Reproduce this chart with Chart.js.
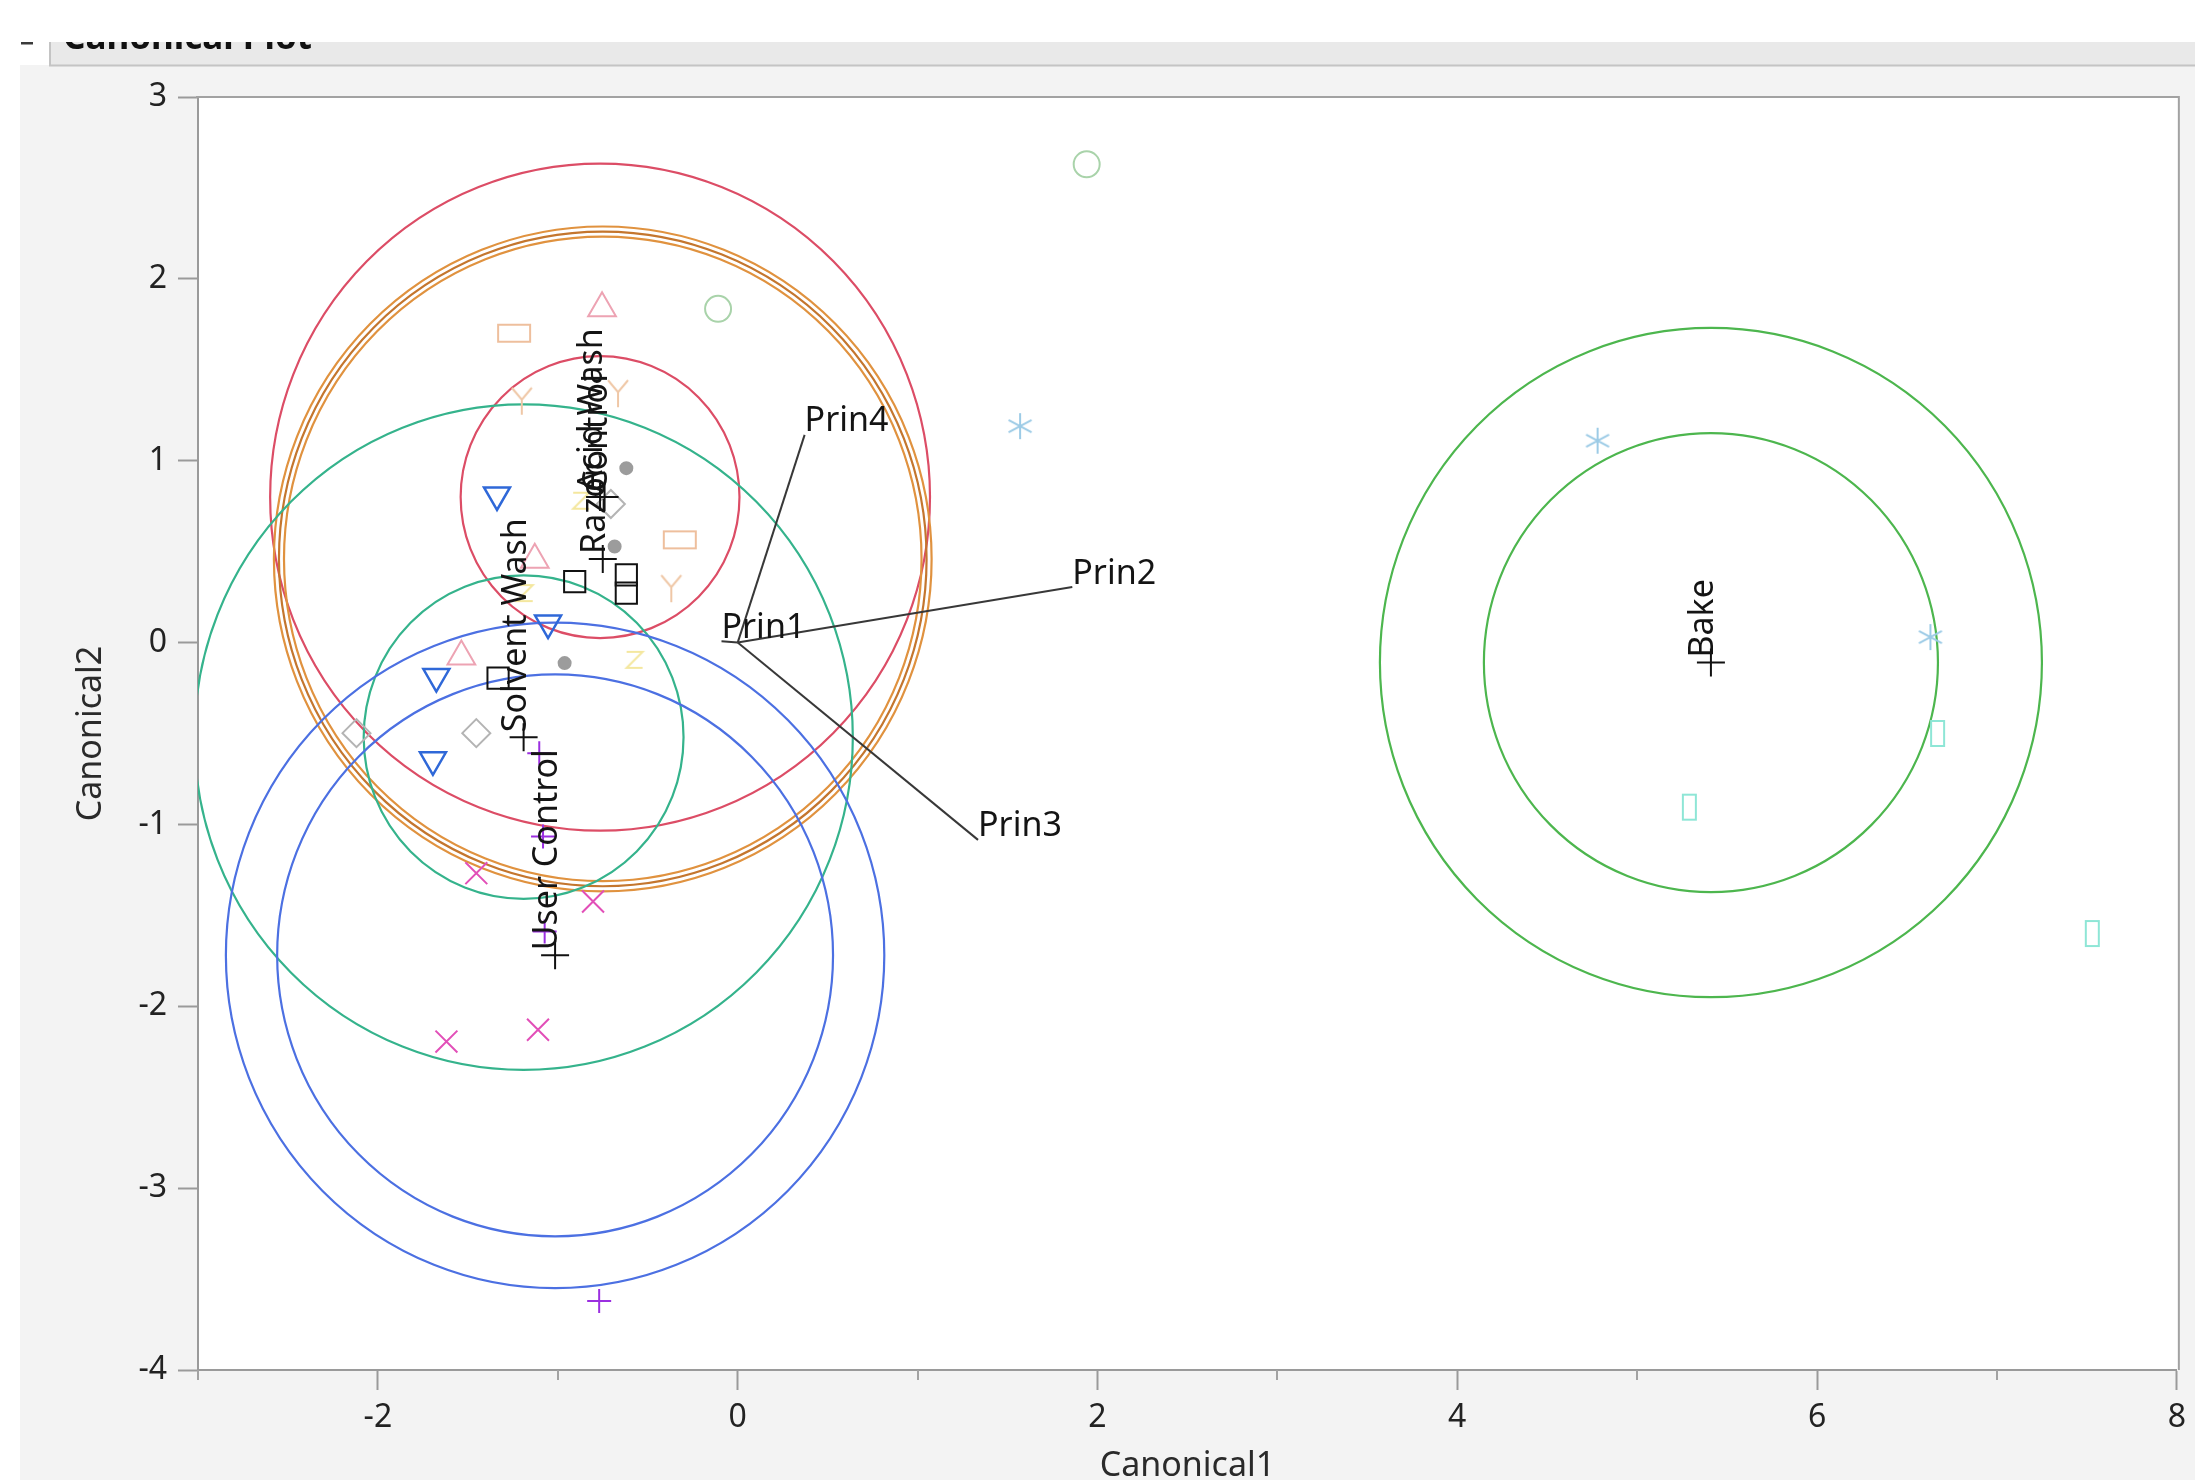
<!DOCTYPE html>
<html>
<head>
<meta charset="utf-8">
<title>Canonical Plot</title>
<script src="https://cdn.jsdelivr.net/npm/chart.js@4.4.1/dist/chart.umd.min.js"></script>
<style>
  html, body { margin: 0; padding: 0; background: #ffffff; }
  canvas { display: block; }
</style>
</head>
<body>
<canvas id="canon" width="2195" height="1480"></canvas>
<script>
// ---- treatment groups: mean canonical scores ----
const groupNames = ['Acid Wash', 'Control', 'Razor', 'Solvent Wash', 'User Control', 'Bake'];
const groupMeanX = [-0.765, -0.74, -0.75, -1.19, -1.015, 5.41];
const groupMeanY = [0.80, 0.80, 0.46, -0.52, -1.72, -0.11];

// ---- rings around the group means (radius in canonical units) ----
const ringGroup  = ['Acid Wash', 'Acid Wash', 'Razor', 'Razor', 'Razor',
                    'Solvent Wash', 'Solvent Wash', 'User Control', 'User Control', 'Bake', 'Bake'];
const ringRadius = [1.834, 0.775, 1.828, 1.80, 1.772, 1.83, 0.889, 1.83, 1.545, 1.84, 1.262];

// ---- biplot rays for the principal components ----
const rayNames = ['Prin1', 'Prin2', 'Prin3', 'Prin4'];
const rayX = [-0.09, 1.86, 1.336, 0.372];
const rayY = [0.007, 0.305, -1.085, 1.142];

// ---- individual observations, one pair of arrays per marker ----
const peachBoxX = [-1.243, -0.322];
const peachBoxY = [1.701, 0.565];
const peachForkX = [-1.20, -0.665, -0.369];
const peachForkY = [1.33, 1.371, 0.299];
const pinkTriX = [-0.754, -1.128, -1.536];
const pinkTriY = [1.838, 0.455, -0.077];
const greenRingX = [-0.109, 1.94];
const greenRingY = [1.835, 2.63];
const blueTriX = [-1.338, -1.054, -1.675, -1.694];
const blueTriY = [0.812, 0.107, -0.187, -0.645];
const grayDiamondX = [-0.705, -1.453, -2.119];
const grayDiamondY = [0.762, -0.498, -0.498];
const grayDotX = [-0.619, -0.684, -0.962];
const grayDotY = [0.959, 0.528, -0.113];
const blackBoxX = [-0.906, -0.619, -0.619, -1.332];
const blackBoxY = [0.335, 0.372, 0.272, -0.196];
const magentaCrossX = [-1.453, -0.804, -1.619, -1.11];
const magentaCrossY = [-1.268, -1.424, -2.194, -2.129];
const purplePlusX = [-1.103, -1.082, -1.073, -0.77];
const purplePlusY = [-0.608, -1.066, -1.589, -3.62];
const skyStarX = [1.57, 4.78, 6.63];
const skyStarY = [1.19, 1.11, 0.03];
const aquaBarX = [5.29, 6.67, 7.53];
const aquaBarY = [-0.905, -0.50, -1.60];
const yellowZX = [-0.573, -0.87, -1.184];
const yellowZY = [-0.095, 0.78, 0.272];

// ---- axis tick labels ----
const xTickLabels = [-2, 0, 2, 4, 6, 8];
const yTickLabels = [-4, -3, -2, -1, 0, 1, 2, 3];

// ---- styles ----
const FONT = '"Noto Sans", "Open Sans", sans-serif';
const ringColor = {
  'Acid Wash': ['#dc4d66', '#dc4d66'],
  'Razor': ['#e0923f', '#c4762e', '#e0923f'],
  'Solvent Wash': ['#35b38c', '#35b38c'],
  'User Control': ['#4c70e2', '#4c70e2'],
  'Bake': ['#4db64e', '#4db64e']
};

const pts = (xs, ys) => xs.map((v, i) => ({ x: v, y: ys[i] }));

function glyph(w, h, color, lw, draw) {
  const c = document.createElement('canvas');
  c.width = w; c.height = h;
  const g = c.getContext('2d');
  g.strokeStyle = color; g.lineWidth = lw; g.lineCap = 'butt';
  g.beginPath(); draw(g); g.stroke();
  return c;
}
const wideBox = glyph(36, 21, '#eebf9d', 2, g => g.rect(2, 2, 32, 17));
const tallBar = glyph(17, 29, '#8ee6d6', 2, g => g.rect(2, 2, 13, 25));
const fork = glyph(26, 30, '#efc7a6', 2, g => {
  g.moveTo(3, 2); g.lineTo(13, 14); g.lineTo(23, 2);
  g.moveTo(13, 14); g.lineTo(13, 29);
});
const zed = glyph(22, 22, '#f4e79e', 2, g => {
  g.moveTo(3, 3); g.lineTo(19, 3); g.lineTo(3, 19); g.lineTo(19, 19);
});
const asterisk = glyph(30, 30, '#9ccbe6', 2, g => {
  g.moveTo(15, 2); g.lineTo(15, 28);
  g.moveTo(3.5, 8.9); g.lineTo(26.5, 21.1);
  g.moveTo(3.5, 21.1); g.lineTo(26.5, 8.9);
});

function markerSet(label, data, style, radius, color, fillColor, extra) {
  return Object.assign({
    label, data,
    pointStyle: style,
    pointRadius: radius,
    pointHoverRadius: radius,
    pointBorderWidth: 2,
    pointHoverBorderWidth: 2,
    pointBorderColor: color,
    pointBackgroundColor: fillColor || 'rgba(0,0,0,0)',
    showLine: false
  }, extra || {});
}

const datasets = [
  markerSet('Group means', pts(groupMeanX, groupMeanY), 'cross', 14, '#111111'),
  markerSet('Black boxes', pts(blackBoxX, blackBoxY), 'rect', 15, '#111111'),
  markerSet('Purple plus', pts(purplePlusX, purplePlusY), 'cross', 12, '#9b2fe0'),
  markerSet('Magenta cross', pts(magentaCrossX, magentaCrossY), 'crossRot', 15.5, '#e24fb8'),
  markerSet('Blue triangles', pts(blueTriX, blueTriY), 'triangle', 15, '#2f68d8', null, { pointRotation: 180, pointBorderWidth: 2.5 }),
  markerSet('Gray dots', pts(grayDotX, grayDotY), 'circle', 6, '#9c9c9c', '#9c9c9c'),
  markerSet('Gray diamonds', pts(grayDiamondX, grayDiamondY), 'rectRot', 14, '#b4b4b4'),
  markerSet('Pink triangles', pts(pinkTriX, pinkTriY), 'triangle', 16, '#eda3b3'),
  markerSet('Green rings', pts(greenRingX, greenRingY), 'circle', 13, '#a9d3aa'),
  markerSet('Peach boxes', pts(peachBoxX, peachBoxY), wideBox, 12, '#eebf9d'),
  markerSet('Peach forks', pts(peachForkX, peachForkY), fork, 12, '#efc7a6'),
  markerSet('Yellow marks', pts(yellowZX, yellowZY), zed, 11, '#f4e79e'),
  markerSet('Sky stars', pts(skyStarX, skyStarY), asterisk, 14, '#9ccbe6'),
  markerSet('Aqua bars', pts(aquaBarX, aquaBarY), tallBar, 12, '#8ee6d6')
];
rayNames.forEach((n, i) => {
  datasets.push({
    label: n,
    data: [{ x: 0, y: 0 }, { x: rayX[i], y: rayY[i] }],
    showLine: true,
    borderColor: '#383838',
    borderWidth: 2,
    pointRadius: 0,
    pointHoverRadius: 0,
    fill: false
  });
});

// panel, title bar and plot frame
const framePlugin = {
  id: 'frame',
  beforeDraw(chart) {
    const { ctx, chartArea: a, width, height } = chart;
    ctx.save();
    ctx.fillStyle = '#ffffff';
    ctx.fillRect(0, 0, width, height);
    ctx.fillStyle = '#f3f3f3';
    ctx.fillRect(20, 65, width - 20, height - 65);
    ctx.fillStyle = '#ffffff';
    ctx.fillRect(a.left, a.top, a.right + 2 - a.left, a.bottom - a.top);
    // outline header
    ctx.fillStyle = '#e9e9e9';
    ctx.fillRect(50, 42, width - 50, 23);
    ctx.strokeStyle = '#c4c4c4';
    ctx.lineWidth = 2;
    ctx.beginPath();
    ctx.moveTo(50, 42); ctx.lineTo(50, 65.5); ctx.lineTo(width, 65.5);
    ctx.stroke();
    ctx.save();
    ctx.beginPath(); ctx.rect(50, 42, width - 50, 23); ctx.clip();
    ctx.fillStyle = '#111111';
    ctx.font = 'bold 35px ' + FONT;
    ctx.textBaseline = 'alphabetic';
    ctx.fillText('Canonical Plot', 63, 49);
    ctx.restore();
    ctx.fillStyle = '#3a3a3a';
    ctx.fillRect(21, 42, 12, 2.5);
    ctx.restore();
  },
  afterDraw(chart) {
    const { ctx, chartArea: a, scales: { x } } = chart;
    ctx.save();
    ctx.strokeStyle = '#a2a2a2';
    ctx.lineWidth = 2;
    ctx.beginPath();
    ctx.moveTo(a.left - 2, a.top); ctx.lineTo(a.right + 2, a.top); ctx.lineTo(a.right + 2, a.bottom);
    ctx.stroke();
    // short ticks for the unlabelled odd values
    ctx.beginPath();
    for (let v = -3; v <= 8; v++) {
      if (xTickLabels.includes(v)) continue;
      const px = Math.round(x.getPixelForValue(v));
      ctx.moveTo(px, a.bottom); ctx.lineTo(px, a.bottom + 10);
    }
    ctx.stroke();
    ctx.restore();
  }
};

// group rings, drawn under the markers
const ringPlugin = {
  id: 'rings',
  beforeDatasetsDraw(chart) {
    const { ctx, chartArea: a, scales: { x, y } } = chart;
    ctx.save();
    ctx.beginPath(); ctx.rect(a.left, a.top, a.right - a.left, a.bottom - a.top); ctx.clip();
    const seen = {};
    ringGroup.forEach((g, i) => {
      const gi = groupNames.indexOf(g);
      const k = seen[g] || 0;
      seen[g] = k + 1;
      const cx = x.getPixelForValue(groupMeanX[gi]);
      const cy = y.getPixelForValue(groupMeanY[gi]);
      const rx = x.getPixelForValue(groupMeanX[gi] + ringRadius[i]) - cx;
      const ry = cy - y.getPixelForValue(groupMeanY[gi] + ringRadius[i]);
      ctx.beginPath();
      ctx.ellipse(cx, cy, rx, ry, 0, 0, Math.PI * 2);
      ctx.strokeStyle = ringColor[g][k];
      ctx.lineWidth = 2.2;
      ctx.stroke();
    });
    ctx.restore();
  }
};

// group and ray labels
const labelPlugin = {
  id: 'labels',
  afterDatasetsDraw(chart) {
    const { ctx, scales: { x, y } } = chart;
    ctx.save();
    ctx.fillStyle = '#141414';
    ctx.font = '34px ' + FONT;
    ctx.textAlign = 'left';
    ctx.textBaseline = 'alphabetic';
    groupNames.forEach((n, i) => {
      const px = x.getPixelForValue(groupMeanX[i]);
      const py = y.getPixelForValue(groupMeanY[i]);
      ctx.save();
      ctx.translate(px + 2, py - 5);
      ctx.rotate(-Math.PI / 2);
      ctx.fillText(n, 0, 0);
      ctx.restore();
    });
    rayNames.forEach((n, i) => {
      const px = x.getPixelForValue(rayX[i]);
      const py = y.getPixelForValue(rayY[i]);
      ctx.fillText(n, px, py - 3.5);
    });
    ctx.restore();
  }
};

Chart.defaults.font.family = FONT;

new Chart(document.getElementById('canon'), {
  type: 'scatter',
  data: { datasets },
  options: {
    responsive: false,
    animation: false,
    devicePixelRatio: 1,
    events: [],
    layout: { padding: { top: 97, right: 18, bottom: 0, left: 0 } },
    plugins: { legend: { display: false }, tooltip: { enabled: false } },
    scales: {
      x: {
        type: 'linear',
        min: -3, max: 8,
        afterFit: s => { s.height = 110; },
        ticks: {
          stepSize: 1, autoSkip: false, maxRotation: 0, padding: 9,
          color: '#222222', font: { size: 32 },
          callback: v => (xTickLabels.includes(v) ? String(v) : '')
        },
        grid: {
          drawOnChartArea: false, drawTicks: true, tickLength: 20, tickWidth: 2,
          tickColor: c => (c.tick && xTickLabels.includes(c.tick.value) ? '#9a9a9a' : 'rgba(0,0,0,0)')
        },
        border: { display: true, color: '#9a9a9a', width: 2 },
        title: { display: true, text: 'Canonical1', color: '#2a2a2a', font: { size: 34 }, padding: { top: 0, bottom: -7 } }
      },
      y: {
        type: 'linear',
        min: -4, max: 3,
        afterFit: s => { s.width = 198; },
        ticks: {
          stepSize: 1, padding: 11, color: '#222222', font: { size: 32 },
          callback: v => (yTickLabels.includes(v) ? String(v) : '')
        },
        grid: { drawOnChartArea: false, drawTicks: true, tickLength: 20, tickWidth: 2, tickColor: '#9a9a9a' },
        border: { display: true, color: '#9a9a9a', width: 2 },
        title: { display: true, text: 'Canonical2', color: '#2a2a2a', font: { size: 34 }, padding: { top: 71, bottom: 0 } }
      }
    }
  },
  plugins: [framePlugin, ringPlugin, labelPlugin]
});
</script>
</body>
</html>
